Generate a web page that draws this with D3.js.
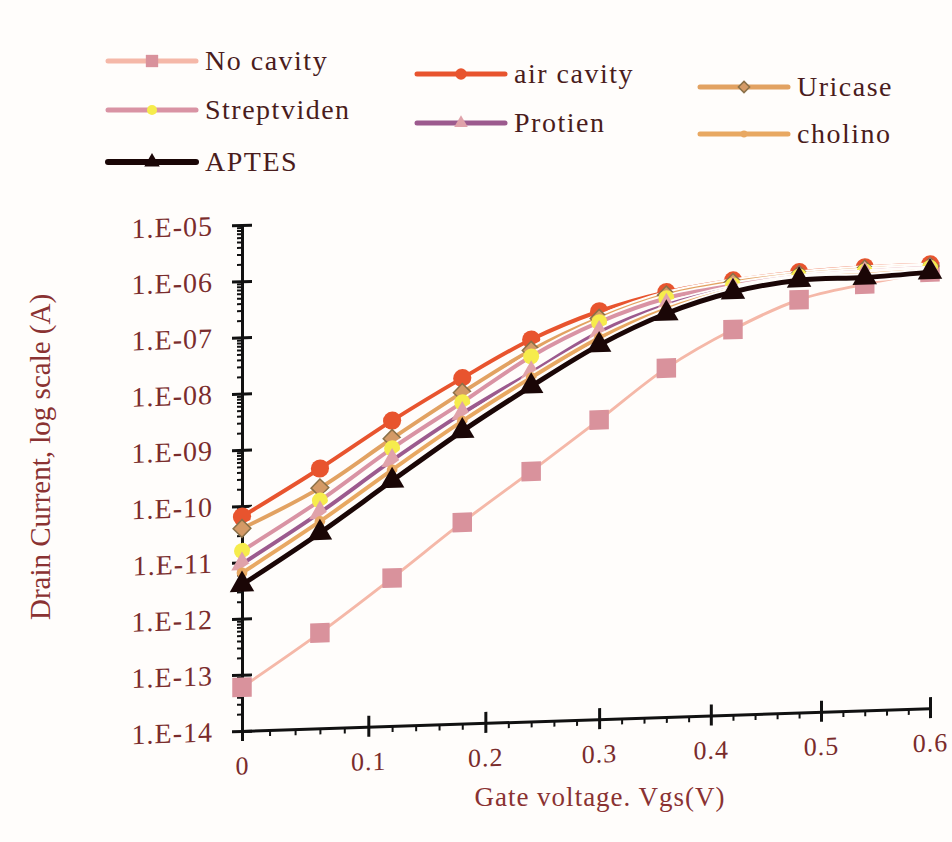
<!DOCTYPE html>
<html>
<head>
<meta charset="utf-8">
<script src="https://cdn.jsdelivr.net/npm/d3@7"></script>
<style>
  body { margin: 0; background: #fffdfb; }
  text { font-family: "Liberation Serif", "Times New Roman", serif; }
  .tickLabel { fill: #7a2c2c; font-size: 28px; letter-spacing: 1px; }
  .xTickLabel { fill: #7a2c2c; font-size: 26px; letter-spacing: 1px; }
  .axisTitle { fill: #8a3232; font-size: 29px; }
  .legendText { fill: #4a1c1c; font-size: 28px; letter-spacing: 1.5px; }
</style>
</head>
<body>
<div class="chart"></div>
<script>
// Gate voltage points (V)
var vgs = [0, 0.06, 0.12, 0.18, 0.24, 0.3, 0.36, 0.42, 0.48, 0.54, 0.6];

// Drain current (A) for each case
var noCavity    = [6.0e-14, 5.0e-13, 4.3e-12, 3.8e-11, 2.8e-10, 2.1e-9, 1.6e-8, 7.1e-8, 2.2e-7, 3.8e-7, 5.7e-7];
var airCavity   = [6.5e-11, 4.2e-10, 2.7e-9, 1.4e-8, 6.2e-8, 1.8e-7, 3.6e-7, 5.3e-7, 6.8e-7, 7.6e-7, 7.8e-7];
var uricase     = [4.0e-11, 1.9e-10, 1.3e-9, 7.8e-9, 4.0e-8, 1.35e-7, 3.2e-7, 4.9e-7, 6.2e-7, 7.0e-7, 7.2e-7];
var streptviden = [1.6e-11, 1.13e-10, 8.7e-10, 5.2e-9, 3.1e-8, 1.15e-7, 2.8e-7, 4.3e-7, 5.7e-7, 6.4e-7, 6.8e-7];
var protien     = [9.4e-12, 6.9e-11, 5.3e-10, 3.3e-9, 1.6e-8, 7.6e-8, 2.1e-7, 3.8e-7, 5.3e-7, 5.9e-7, 6.3e-7];
var cholino     = [6.5e-12, 4.8e-11, 3.6e-10, 2.4e-9, 1.3e-8, 6.0e-8, 1.8e-7, 3.6e-7, 5.1e-7, 5.6e-7, 6.0e-7];
var aptes       = [4.0e-12, 3.0e-11, 2.3e-10, 1.6e-9, 9.1e-9, 4.5e-8, 1.5e-7, 3.3e-7, 4.9e-7, 5.0e-7, 5.7e-7];

var seriesNames = ["No cavity", "air cavity", "Uricase", "Streptviden", "Protien", "cholino", "APTES"];
var seriesValues = [noCavity, airCavity, uricase, streptviden, protien, cholino, aptes];

var yTicks = [1e-14, 1e-13, 1e-12, 1e-11, 1e-10, 1e-9, 1e-8, 1e-7, 1e-6, 1e-5];
var xTicks = [0, 0.1, 0.2, 0.3, 0.4, 0.5, 0.6];

// look of each series
var styles = {
  "No cavity":   { line: "#f5b8a8", width: 3, marker: d3.symbolSquare,   size: 380, fill: "#d9929c", stroke: "none" },
  "air cavity":  { line: "#e8542e", width: 4, marker: d3.symbolCircle,   size: 260, fill: "#e8542e", stroke: "none" },
  "Uricase":     { line: "#e2a262", width: 4, marker: d3.symbolDiamond2, size: 200, fill: "#d49a66", stroke: "#8a7048" },
  "Streptviden": { line: "#d993a4", width: 4, marker: d3.symbolCircle,   size: 200, fill: "#f6ec4c", stroke: "none" },
  "Protien":     { line: "#9c5a8e", width: 4, marker: d3.symbolTriangle, size: 200, fill: "#e0a2aa", stroke: "none" },
  "cholino":     { line: "#e8a862", width: 4, marker: d3.symbolCircle,   size: 90,  fill: "#e8a862", stroke: "none" },
  "APTES":       { line: "#1a0606", width: 5, marker: d3.symbolTriangle, size: 260, fill: "#1a0606", stroke: "none" }
};

// legend layout (the photo is a bit tilted, so columns sit at different heights)
var legendPos = [
  { x: 108, y: 61 }, { x: 417, y: 74 }, { x: 700, y: 87 },
  { x: 108, y: 110 }, { x: 417, y: 123 }, { x: 700, y: 134 },
  { x: 108, y: 162 }
];

var svgWidth = 952;
var svgHeight = 842;

var margin = { top: 225, left: 242 };
var width = 688;
var height = 506;

var svg = d3.select(".chart")
  .append("svg")
  .attr("width", svgWidth)
  .attr("height", svgHeight);

svg.append("rect")
  .attr("width", svgWidth)
  .attr("height", svgHeight)
  .attr("fill", "#fffdfb");

// slight skew copies the perspective of the photographed figure
var chartGroup = svg.append("g")
  .attr("transform", `translate(${margin.left}, ${margin.top}) skewY(-1.9)`);

// pow scale with exponent near 1 mimics the perspective squeeze to the right
var xScale = d3.scalePow()
  .exponent(0.946)
  .domain([0, 0.6])
  .range([0, width]);

var yScale = d3.scaleLog()
  .domain([1e-14, 1e-5])
  .range([height, 0]);

// minor ticks
var yMinor = [];
yTicks.slice(0, -1).forEach(function (t) {
  for (var k = 2; k <= 9; k++) yMinor.push(t * k);
});
var xMinor = d3.range(0, 0.6001, 0.02).filter(function (v) {
  return Math.abs(v * 10 - Math.round(v * 10)) > 1e-6;
});

chartGroup.append("g")
  .call(d3.axisLeft(yScale).tickValues(yMinor).tickSize(5).tickFormat(""))
  .call(g => g.select(".domain").remove())
  .selectAll("line").attr("stroke", "#111").attr("stroke-width", 2);

chartGroup.append("g")
  .attr("transform", `translate(0, ${height})`)
  .call(d3.axisBottom(xScale).tickValues(xMinor).tickSize(6).tickFormat(""))
  .call(g => g.select(".domain").remove())
  .selectAll("line").attr("stroke", "#111").attr("stroke-width", 2);

// major axes
var leftAxis = d3.axisLeft(yScale)
  .tickValues(yTicks)
  .tickSize(10)
  .tickSizeOuter(0)
  .tickPadding(19)
  .tickFormat(function (d) {
    var e = Math.round(Math.log10(d));
    return "1.E-" + String(-e).padStart(2, "0");
  });

var yAxisG = chartGroup.append("g").call(leftAxis);
yAxisG.select(".domain").attr("stroke", "#111").attr("stroke-width", 3);
yAxisG.selectAll(".tick line").attr("x2", -10).attr("x1", 10).attr("stroke", "#111").attr("stroke-width", 3);
yAxisG.selectAll(".tick text").attr("class", "tickLabel").attr("fill", null);

var bottomAxis = d3.axisBottom(xScale)
  .tickValues(xTicks)
  .tickSize(10)
  .tickSizeOuter(0)
  .tickPadding(15)
  .tickFormat(d => d === 0 ? "0" : d3.format(".1f")(d));

var xAxisG = chartGroup.append("g")
  .attr("transform", `translate(0, ${height})`)
  .call(bottomAxis);
xAxisG.select(".domain").attr("stroke", "#111").attr("stroke-width", 3);
xAxisG.selectAll(".tick line").attr("y1", -11).attr("y2", 10).attr("stroke", "#111").attr("stroke-width", 3);
xAxisG.selectAll(".tick text").attr("class", "xTickLabel").attr("fill", null);

// lines and markers
var line = d3.line()
  .x(d => xScale(d.x))
  .y(d => yScale(d.y))
  .curve(d3.curveCatmullRom);

seriesNames.forEach(function (name, i) {
  var st = styles[name];
  var pts = vgs.map((v, j) => ({ x: v, y: seriesValues[i][j] }));
  var g = chartGroup.append("g");

  // white halo like the original's line border
  g.append("path")
    .datum(pts)
    .attr("d", line)
    .attr("fill", "none")
    .attr("stroke", "#fffdfb")
    .attr("stroke-width", st.width + 4);

  g.append("path")
    .datum(pts)
    .attr("d", line)
    .attr("fill", "none")
    .attr("stroke", st.line)
    .attr("stroke-width", st.width);

  g.selectAll("path.marker")
    .data(pts)
    .enter()
    .append("path")
    .attr("class", "marker")
    .attr("transform", d => `translate(${xScale(d.x)}, ${yScale(d.y)})`)
    .attr("d", d3.symbol().type(st.marker).size(st.size))
    .attr("fill", st.fill)
    .attr("stroke", st.stroke)
    .attr("stroke-width", 1.5);
});

// axis titles
svg.append("text")
  .attr("class", "axisTitle")
  .attr("transform", "translate(50, 457) rotate(-90)")
  .attr("text-anchor", "middle")
  .text("Drain Current, log scale (A)");

svg.append("text")
  .attr("class", "axisTitle")
  .attr("x", 600)
  .attr("y", 806)
  .attr("text-anchor", "middle")
  .style("font-size", "27px")
  .style("letter-spacing", "1px")
  .text("Gate voltage. Vgs(V)");

// legend
var legend = svg.append("g");
seriesNames.forEach(function (name, i) {
  var st = styles[name];
  var p = legendPos[i];
  var item = legend.append("g").attr("transform", `translate(${p.x}, ${p.y})`);
  item.append("line")
    .attr("x1", 0).attr("x2", 88)
    .attr("stroke", st.line)
    .attr("stroke-width", name === "APTES" ? 6 : 5)
    .attr("stroke-linecap", "round");
  item.append("path")
    .attr("transform", "translate(44, 0)")
    .attr("d", d3.symbol().type(st.marker).size(st.size * 0.4))
    .attr("fill", st.fill)
    .attr("stroke", st.stroke)
    .attr("stroke-width", 1.5);
  item.append("text")
    .attr("class", "legendText")
    .attr("x", 97)
    .attr("y", 9)
    .text(name);
});
</script>
</body>
</html>
